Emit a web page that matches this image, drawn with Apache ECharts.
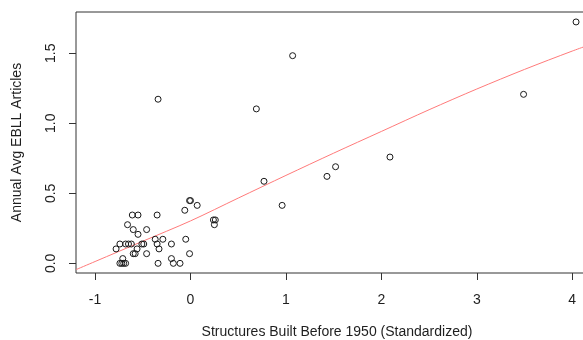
<!DOCTYPE html>
<html>
<head>
<meta charset="utf-8">
<script src="https://cdn.jsdelivr.net/npm/echarts@6/dist/echarts.min.js"></script>
<style>
  html, body { margin: 0; padding: 0; background: #fff; }
  #chart { width: 583px; height: 340px; }
</style>
</head>
<body>
<div id="chart"></div>
<script>
// Standardized count of pre-1950 structures per area
const structuresStd = [
  -0.34, 0.69, 1.07, 0.77, 0.96, 1.43, 1.52, 2.09, 3.49, 4.04,
  -0.01, 0.00, 0.07, -0.06, 0.24, 0.26, 0.25,
  -0.35, -0.61, -0.55, -0.66, -0.60, -0.46, -0.55,
  -0.37, -0.29, -0.05, -0.35, -0.20, -0.33, -0.01, -0.20,
  -0.34, -0.18, -0.11, -0.74, -0.72, -0.70, -0.68, -0.71,
  -0.78, -0.74, -0.68, -0.65, -0.62, -0.60, -0.58, -0.56,
  -0.51, -0.49, -0.46
];
// Annual average number of EBLL articles
const eBllArticles = [
  1.172, 1.103, 1.483, 0.586, 0.414, 0.621, 0.690, 0.759, 1.207, 1.724,
  0.448, 0.448, 0.414, 0.379, 0.310, 0.310, 0.276,
  0.345, 0.345, 0.345, 0.276, 0.241, 0.241, 0.207,
  0.172, 0.172, 0.172, 0.138, 0.138, 0.103, 0.069, 0.034,
  0.000, 0.000, 0.000, 0.000, 0.000, 0.000, 0.000, 0.034,
  0.103, 0.138, 0.138, 0.138, 0.138, 0.069, 0.069, 0.103,
  0.138, 0.138, 0.069
];
// Fitted trend
const fitX = [-1.2, -1, -0.5, 0, 0.5, 1, 1.5, 2, 2.5, 3, 3.5, 4, 4.27];
const fitY = [-0.045, 0.013, 0.158, 0.303, 0.466, 0.628, 0.787, 0.942, 1.097, 1.245, 1.385, 1.516, 1.582];

const xTicks = [-1, 0, 1, 2, 3, 4];
const yTicks = [0, 0.5, 1, 1.5];

const FONT = '"Liberation Sans", Arial, Helvetica, sans-serif';
const INK = '#1e1e1e';
const FS = 14;

const chart = echarts.init(document.getElementById('chart'), null, { renderer: 'canvas' });

chart.setOption({
  animation: false,
  backgroundColor: '#ffffff',
  grid: {
    left: 76, top: 12, width: 522, height: 261,
    containLabel: false, outerBoundsMode: 'none',
    show: true, borderColor: '#333', borderWidth: 1, backgroundColor: 'transparent'
  },
  xAxis: {
    type: 'value',
    min: -1.2, max: 4.27,
    name: 'Structures Built Before 1950 (Standardized)',
    nameLocation: 'middle', nameGap: 52,
    nameTextStyle: { fontFamily: FONT, fontSize: FS, color: INK },
    axisLine: { show: false, onZero: false },
    splitLine: { show: false },
    axisTick: { show: true, inside: false, length: 7, customValues: xTicks,
                lineStyle: { color: '#333', width: 1 } },
    axisLabel: { customValues: xTicks, margin: 20, fontFamily: FONT, fontSize: FS, color: INK,
                 formatter: v => String(v) }
  },
  yAxis: {
    type: 'value',
    min: -0.069, max: 1.795,
    name: 'Annual Avg EBLL Articles',
    nameLocation: 'middle', nameGap: 52, nameRotate: 90,
    nameTextStyle: { fontFamily: FONT, fontSize: FS, color: INK },
    axisLine: { show: false, onZero: false },
    splitLine: { show: false },
    axisTick: { show: true, inside: false, length: 7, customValues: yTicks,
                lineStyle: { color: '#333', width: 1 } },
    axisLabel: { customValues: yTicks, rotate: 90, margin: 18, fontFamily: FONT, fontSize: FS, color: INK,
                 formatter: v => v.toFixed(1) }
  },
  series: [
    {
      type: 'line',
      data: fitX.map((x, i) => [x, fitY[i]]),
      smooth: 0.3,
      symbol: 'none',
      clip: true,
      lineStyle: { color: '#ff7a7a', width: 1 },
      z: 2
    },
    {
      type: 'scatter',
      data: structuresStd.map((x, i) => [x, eBllArticles[i]]),
      symbol: 'circle',
      symbolSize: 6,
      itemStyle: { color: 'rgba(0,0,0,0)', borderColor: '#1a1a1a', borderWidth: 1, opacity: 1 },
      z: 3
    }
  ]
});
</script>
</body>
</html>
